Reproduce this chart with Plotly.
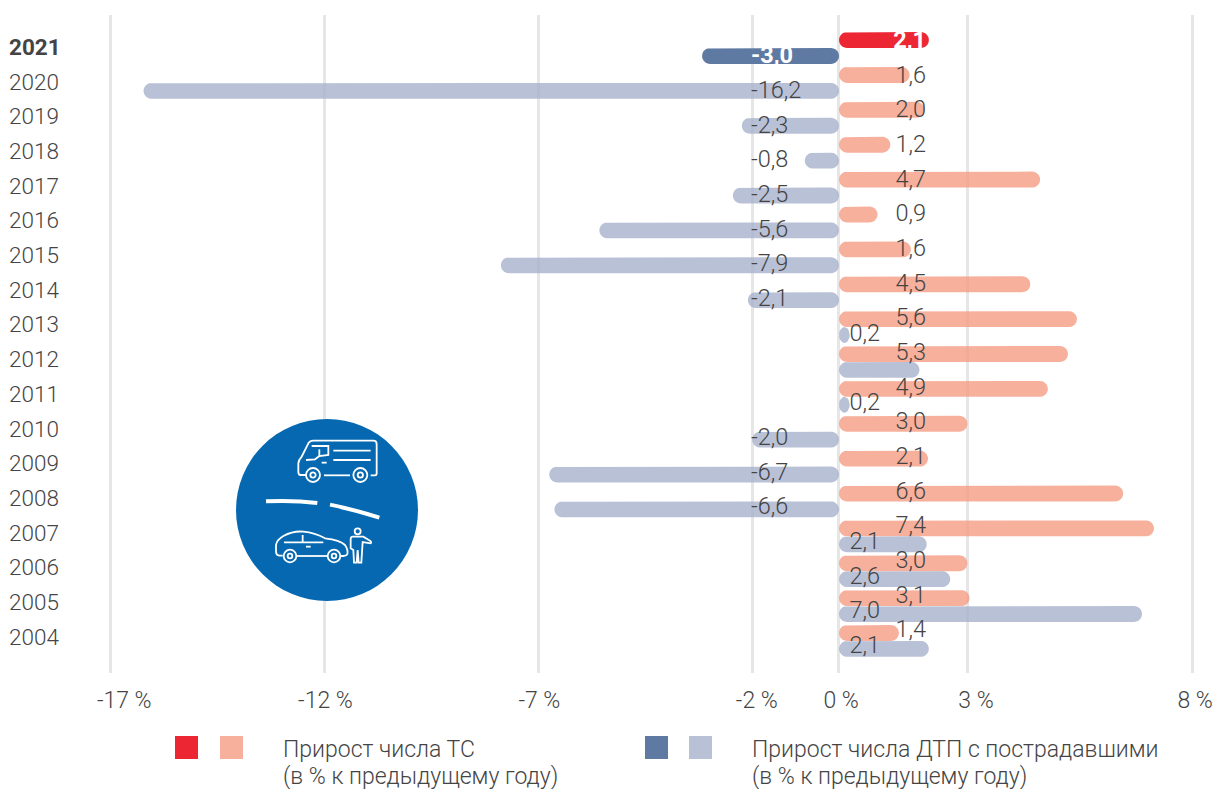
import plotly.graph_objects as go
import math
import re

years = list(range(2021, 2003, -1))
vehicles = [2.1, 1.65, 2.0, 1.2, 4.7, 0.9, 1.68, 4.47, 5.56, 5.35, 4.88, 3.0, 2.08, 6.64, 7.36, 3.0, 3.05, 1.4]
crashes = [-3.2, -16.25, -2.27, -0.8, -2.48, -5.6, -7.9, -2.13, 0.25, 1.88, 0.25, -2.03, -6.77, -6.65, 2.05, 2.6, 7.08, 2.1]
crash_labels = ["-3,0", "-16,2", "-2,3", "-0,8", "-2,5", "-5,6", "-7,9", "-2,1", "0,2", "", "0,2", "-2,0", "-6,7", "-6,6", "2,1", "2,6", "7,0", "2,1"]
vehicle_labels = ["2,1", "1,6", "2,0", "1,2", "4,7", "0,9", "1,6", "4,5", "5,6", "5,3", "4,9", "3,0", "2,1", "6,6", "7,4", "3,0", "3,1", "1,4"]
grid_ticks = [-17.03, -12.01, -7.01, -2.01, -0.02, 3, 8.25]
label_ticks = [-16.7, -12, -7, -1.92, 0.05, 3.2, 8.32]
x_ticktext = ["-17 %", "-12 %", "-7 %", "-2 %", "0 %", "3 %", "8 %"]
legend_a = ["Прирост числа ТС", "(в % к предыдущему году)"]
legend_b = ["Прирост числа ДТП с пострадавшими", "(в % к предыдущему году)"]

RED, PINK, NAVY, LAV = "#ec2733", "#f7b09c", "#5f7aa2", "#b9c1d6"
PINK_A, LAV_A = "rgba(245,156,131,0.8)", "rgba(168,177,204,0.8)"
TXT = "#444444"
FONT = "Roboto"
W, H = 1215, 789
ML, MR, MT, MB = 6, 0, 15, 116
PXU = 42.8
X0 = 839
PITCH = 34.88
Y2021 = 48
BAR_PX = 15.9
BARH = BAR_PX / PITCH

def px(x):
    return (x - ML) / (W - ML - MR)
def py(y):
    return 1 - (y - MT) / (H - MT - MB)
def row_y(pixel):
    return 2021 + (Y2021 - pixel) / PITCH
def col_x(pixel):
    return (pixel - X0) / PXU
def path(d):
    out, isx = [], True
    for tok in re.findall(r"[A-Za-z]|-?\d+\.?\d*", d):
        if tok.isalpha():
            out.append(tok); isx = True
        else:
            v = float(tok)
            out.append(f"{px(220 + v / 3):.5f}" if isx else f"{py(410 + v / 3):.5f}")
            isx = not isx
    return " ".join(out)

def capsule(value, y_lo):
    """Outline of one rounded bar running from 0 to value, in axis units."""
    lo, hi = min(0, value), max(0, value)
    rx = min(BAR_PX / 2 / PXU, (hi - lo) / 2)
    ry = BARH / 2
    cy = y_lo + ry
    xs, ys = [], []
    n = 10
    for i in range(n + 1):
        a = -math.pi / 2 + math.pi * i / n
        xs.append(hi - rx + rx * math.cos(a)); ys.append(cy + ry * math.sin(a))
    for i in range(n + 1):
        a = math.pi / 2 + math.pi * i / n
        xs.append(lo + rx + rx * math.cos(a)); ys.append(cy + ry * math.sin(a))
    xs.append(xs[0]); ys.append(ys[0])
    return xs, ys

def add_bars(vals, rows, y_off, color):
    X, Y = [], []
    for v, r in zip(vals, rows):
        xs, ys = capsule(v, r + y_off)
        X += xs + [None]; Y += ys + [None]
    fig.add_trace(go.Scatter(x=X, y=Y, mode="lines", fill="toself", fillcolor=color, line=dict(width=0),
                             showlegend=False, hoverinfo="skip"))

fig = go.Figure()
add_bars(vehicles[1:], years[1:], 0, PINK_A)
add_bars(crashes[1:], years[1:], -BARH, LAV_A)
add_bars(vehicles[:1], years[:1], 0, RED)
add_bars(crashes[:1], years[:1], -BARH, NAVY)

# data labels sit in fixed columns, with a slightly tighter row pitch than the bars
LP = 34.68
fw = 300
def label_trace(idx, labels, px_col, pos, base_px, first_white=True):
    cols = [("#ffffff" if (first_white and i == 0) else TXT) for i in idx]
    fig.add_trace(go.Scatter(
        x=[col_x(px_col)] * len(idx), y=[row_y(base_px + LP * i) for i in idx], mode="text",
        text=[("<b>%s</b>" % labels[i]) if i == 0 else labels[i] for i in idx], textposition=pos,
        textfont=dict(family=FONT, size=23.5, color=cols, weight=fw), showlegend=False, hoverinfo="skip"))

label_trace(list(range(18)), vehicle_labels, 926, "middle left", 42)
neg = [i for i, v in enumerate(crashes) if v < 0]
pos = [i for i, v in enumerate(crashes) if v > 0 and crash_labels[i]]
label_trace(neg, crash_labels, 751, "middle right", 57.5)
label_trace(pos, crash_labels, 849.5, "middle right", 57.5)

shapes = []
ww = dict(color="white", width=1.8)
shapes.append(dict(type="circle", xref="paper", yref="paper", x0=px(236), x1=px(418), y0=py(601), y1=py(419),
                   fillcolor="#0568b0", line=dict(width=0), layer="above"))
icon_paths = [
    "M258 195 L242 195 Q235 195 235 185 L235 160 Q236 150 245 140 L265 100 Q270 92 280 92 L460 92 Q470 92 470 102 L470 190 Q470 196 465 196 L452 196",
    "M312 196 L390 196",
    "M258 150 L285 148 L298 138 L325 135 L325 108 L275 108",
    "M298 118 L298 138",
    "M340 122 L452 122", "M340 150 L452 150", "M305 158 L320 158",
    "M188 437 L178 437 Q168 435 168 425 L168 405 Q170 390 190 378 Q220 362 250 365 Q285 368 315 385 Q360 390 375 405 Q385 420 382 432 Q380 437 370 438 L362 438",
    "M230 438 L322 438", "M192 397 L310 397", "M248 375 L248 397", "M258 410 L272 410",
    "M398 380 L430 380 L450 392 Q456 396 452 400 L428 396 L424 458 L416 458 L413 420 L410 458 L402 458 L400 420 L392 415 L392 388 Q392 380 398 380 Z",
]
for d in icon_paths:
    shapes.append(dict(type="path", xref="paper", yref="paper", path=path(d), line=ww, layer="above"))
for d in ["M138 274 Q220 270 292 279", "M330 284 Q400 298 478 323"]:
    shapes.append(dict(type="path", xref="paper", yref="paper", path=path(d), line=dict(color="white", width=4), layer="above"))
for cx, cy, r in [(279, 195, 21), (279, 195, 8), (421, 195, 21), (421, 195, 8), (210, 438, 19), (210, 438, 7),
                  (342, 438, 19), (342, 438, 7), (413, 364, 9)]:
    shapes.append(dict(type="circle", xref="paper", yref="paper", x0=px(220 + (cx - r) / 3), x1=px(220 + (cx + r) / 3),
                       y0=py(410 + (cy + r) / 3), y1=py(410 + (cy - r) / 3), line=ww, layer="above"))
for x0, c in [(175, RED), (220, PINK), (645, NAVY), (689, LAV)]:
    shapes.append(dict(type="rect", xref="paper", yref="paper", x0=px(x0), x1=px(x0 + 23), y0=py(759), y1=py(736),
                       fillcolor=c, line=dict(width=0)))

annotations = []
for x, lines in [(283, legend_a), (752, legend_b)]:
    for yy, t in zip((749, 777), lines):
        annotations.append(dict(xref="paper", yref="paper", x=px(x), y=py(yy), xanchor="left", yanchor="middle",
                                showarrow=False, text=t, xshift=-2,
                                font=dict(family=FONT, size=23, color=TXT, weight=fw)))

fig.update_layout(
    width=W, height=H, autosize=False, paper_bgcolor="white", plot_bgcolor="white",
    margin=dict(l=ML, r=MR, t=MT, b=MB), shapes=shapes, annotations=annotations,
    font=dict(family=FONT, color=TXT),
    xaxis=dict(range=[col_x(ML), col_x(W - MR)], tickvals=label_ticks, ticktext=x_ticktext, showgrid=False,
               minor=dict(tickvals=grid_ticks, showgrid=True, gridcolor="#e6e6e6", gridwidth=3, ticks=""),
               zeroline=False, ticks="", ticklabelstandoff=11,
               tickfont=dict(family=FONT, size=23, color=TXT, weight=fw), fixedrange=True),
    yaxis=dict(range=[row_y(H - MB), row_y(MT)], tickvals=[row_y(47 + 34.7 * i) for i in range(18)],
               ticktext=["<b>2021</b>"] + [str(y) for y in years[1:]], ticklabelposition="inside", showgrid=False,
               zeroline=False, ticks="", tickfont=dict(family=FONT, size=22.5, color=TXT, weight=fw), fixedrange=True),
)
fig.write_html("out.html", config=dict(displayModeBar=False),
               post_script="document.body.style.margin='0';document.body.style.overflow='hidden';")
